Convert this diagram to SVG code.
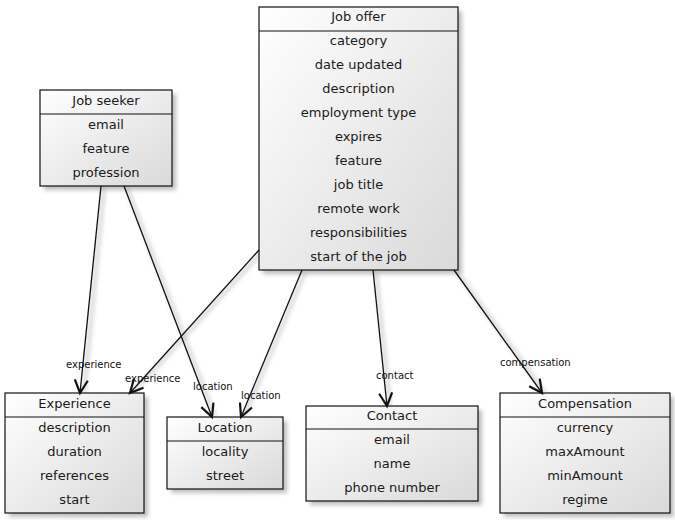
<svg xmlns="http://www.w3.org/2000/svg" width="675" height="520" viewBox="0 0 675 520">
<defs>
<linearGradient id="g" x1="0" y1="0" x2="1" y2="1">
<stop offset="0" stop-color="#ffffff"/>
<stop offset="1" stop-color="#d9d9d9"/>
</linearGradient>
<filter id="sh" x="-20%" y="-20%" width="140%" height="140%">
<feGaussianBlur stdDeviation="2"/>
</filter>
<marker id="arr" markerWidth="18" markerHeight="18" refX="14" refY="8" orient="auto" markerUnits="userSpaceOnUse">
<path d="M1,1.5 L14,8 L1,14.5" fill="none" stroke="#111" stroke-width="2.2"/>
</marker>
<style>
.box{fill:url(#g);stroke:#111;stroke-width:1.2}
.shd{fill:#888;opacity:0.55;filter:url(#sh)}
.sep{stroke:#111;stroke-width:1.2}
.t{font-family:"DejaVu Sans",Verdana,sans-serif;font-size:13px;fill:#1a1a1a;text-anchor:middle}
.lbl{font-family:"DejaVu Sans",Verdana,sans-serif;font-size:10px;fill:#111}
.c{fill:none;stroke:#111;stroke-width:1.3;marker-end:url(#arr)}
.cs{fill:none;stroke:#999;stroke-width:3;opacity:0.5;filter:url(#sh)}
</style>
</defs>
<g id="connector-shadows">
<path class="cs" d="M104,188 L84,393"/>
<path class="cs" d="M127,188 L215,417"/>
<path class="cs" d="M262,252 L133,393"/>
<path class="cs" d="M305,272 L244,417"/>
<path class="cs" d="M376,272 L390,406"/>
<path class="cs" d="M457,272 L545,393"/>
</g>
<g id="job-offer">
<rect class="shd" x="263" y="11" width="199" height="263"/>
<rect class="box" x="259" y="7" width="199" height="263"/>
<line class="sep" x1="259" y1="31" x2="458" y2="31"/>
<text class="t" x="358.5" y="21">Job offer</text>
<text class="t" x="358.5" y="45">category</text>
<text class="t" x="358.5" y="69">date updated</text>
<text class="t" x="358.5" y="93">description</text>
<text class="t" x="358.5" y="117">employment type</text>
<text class="t" x="358.5" y="141">expires</text>
<text class="t" x="358.5" y="165">feature</text>
<text class="t" x="358.5" y="189">job title</text>
<text class="t" x="358.5" y="213">remote work</text>
<text class="t" x="358.5" y="237">responsibilities</text>
<text class="t" x="358.5" y="261">start of the job</text>
</g>
<g id="job-seeker">
<rect class="shd" x="44" y="94" width="132" height="96"/>
<rect class="box" x="40" y="90" width="132" height="96"/>
<line class="sep" x1="40" y1="114" x2="172" y2="114"/>
<text class="t" x="106" y="105">Job seeker</text>
<text class="t" x="106" y="129">email</text>
<text class="t" x="106" y="153">feature</text>
<text class="t" x="106" y="177">profession</text>
</g>
<g id="experience">
<rect class="shd" x="9" y="397" width="139" height="120"/>
<rect class="box" x="5" y="393" width="139" height="120"/>
<line class="sep" x1="5" y1="417" x2="144" y2="417"/>
<text class="t" x="74.5" y="408">Experience</text>
<text class="t" x="74.5" y="432">description</text>
<text class="t" x="74.5" y="456">duration</text>
<text class="t" x="74.5" y="480">references</text>
<text class="t" x="74.5" y="504">start</text>
</g>
<g id="location">
<rect class="shd" x="171" y="421" width="116" height="72"/>
<rect class="box" x="167" y="417" width="116" height="72"/>
<line class="sep" x1="167" y1="441" x2="283" y2="441"/>
<text class="t" x="225" y="432">Location</text>
<text class="t" x="225" y="456">locality</text>
<text class="t" x="225" y="480">street</text>
</g>
<g id="contact">
<rect class="shd" x="310" y="410" width="172" height="95"/>
<rect class="box" x="306" y="406" width="172" height="95"/>
<line class="sep" x1="306" y1="429" x2="478" y2="429"/>
<text class="t" x="392" y="420">Contact</text>
<text class="t" x="392" y="444">email</text>
<text class="t" x="392" y="468">name</text>
<text class="t" x="392" y="492">phone number</text>
</g>
<g id="compensation">
<rect class="shd" x="504" y="397" width="170" height="120"/>
<rect class="box" x="500" y="393" width="170" height="120"/>
<line class="sep" x1="500" y1="417" x2="670" y2="417"/>
<text class="t" x="585" y="408">Compensation</text>
<text class="t" x="585" y="432">currency</text>
<text class="t" x="585" y="456">maxAmount</text>
<text class="t" x="585" y="480">minAmount</text>
<text class="t" x="585" y="504">regime</text>
</g>
<g id="connectors">
<path class="c" d="M101,186 L80,393"/>
<path class="c" d="M124,186 L212,417"/>
<path class="c" d="M259,250 L130,393"/>
<path class="c" d="M302,270 L241,417"/>
<path class="c" d="M373,270 L387,406"/>
<path class="c" d="M454,270 L542,393"/>
<text class="lbl" x="66" y="368">experience</text>
<text class="lbl" x="125" y="382">experience</text>
<text class="lbl" x="193" y="390">location</text>
<text class="lbl" x="241" y="399">location</text>
<text class="lbl" x="376" y="379">contact</text>
<text class="lbl" x="500" y="366">compensation</text>
</g>
</svg>
